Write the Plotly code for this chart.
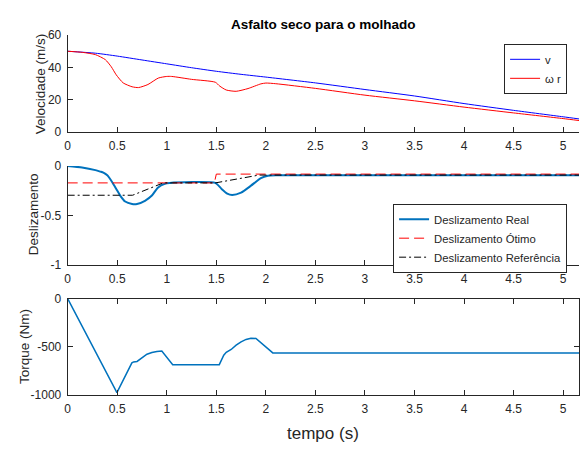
import plotly.graph_objects as go

# ---------------- data ----------------
t_v = [0, 0.28, 0.5, 0.75, 1.0, 1.25, 1.5, 1.75, 2.0, 2.5, 3.0, 3.5, 4.0, 4.5, 5.0, 5.16]
v = [50, 48.8, 47.0, 44.6, 42.2, 39.8, 37.6, 35.7, 34.0, 30.4, 26.3, 22.3, 17.6, 13.4, 9.4, 8.1]

t_wr = [0, 0.15, 0.28, 0.38, 0.44, 0.49, 0.56, 0.65, 0.715, 0.81, 0.915, 1.0, 1.05, 1.25,
        1.49, 1.535, 1.6, 1.70, 1.82, 1.95, 2.0, 2.1, 2.5, 3.0, 3.5, 4.0, 4.5, 5.0, 5.16]
wr = [50, 49.3, 47.9, 44.8, 40.4, 35.4, 30.4, 28.0, 27.5, 29.4, 33.4, 34.4, 34.4, 32.6,
      30.8, 28.4, 26.0, 25.2, 26.9, 29.8, 30.3, 29.9, 27.0, 22.8, 19.3, 15.4, 11.8, 8.3, 7.1]

t_sr = [0, 0.145, 0.28, 0.33, 0.36, 0.40, 0.42, 0.45, 0.50, 0.53, 0.58, 0.65, 0.70, 0.78, 0.85,
        0.91, 0.98, 1.03, 1.49, 1.55, 1.61, 1.66, 1.75, 1.85, 1.95, 2.02, 2.1, 5.16]
s_real = [0, -0.016, -0.043, -0.058, -0.068, -0.095, -0.12, -0.165, -0.25, -0.30, -0.36, -0.385,
          -0.385, -0.353, -0.30, -0.22, -0.18, -0.172, -0.172, -0.23, -0.28, -0.294, -0.27, -0.20,
          -0.124, -0.10, -0.095, -0.095]

t_so = [0, 1.48, 1.5, 5.16]
s_otimo = [-0.172, -0.172, -0.083, -0.083]

t_sref = [0, 0.655, 0.965, 1.49, 1.93, 5.16]
s_ref = [-0.297, -0.297, -0.172, -0.172, -0.093, -0.093]

t_T = [0, 0.497, 0.648, 0.665, 0.70, 0.75, 0.80, 0.85, 0.90, 0.95, 1.06, 1.53, 1.575, 1.60,
       1.65, 1.70, 1.75, 1.80, 1.85, 1.90, 2.07, 5.16]
torque = [0, -980, -670, -660, -655, -615, -580, -562, -550, -547, -688, -688, -590, -560,
          -530, -485, -450, -425, -413, -415, -566, -566]

x_ticks = [0, 0.5, 1, 1.5, 2, 2.5, 3, 3.5, 4, 4.5, 5]
x_ticktext = ["0", "0.5", "1", "1.5", "2", "2.5", "3", "3.5", "4", "4.5", "5"]
y1_ticks = [0, 20, 40, 60]
y1_ticktext = ["0", "20", "40", "60"]
y2_ticks = [-1, -0.5, 0]
y2_ticktext = ["-1", "-0.5", "0"]
y3_ticks = [-1000, -500, 0]
y3_ticktext = ["-1000", "-500", "0"]

# ---------------- figure ----------------
W, H = 583, 450
FONT = "Liberation Sans, Arial, Helvetica, sans-serif"
AX = "#262626"
BLUE_M = "#0072BD"

fig = go.Figure()
fig.add_trace(go.Scatter(x=t_v, y=v, mode="lines", name="v", line=dict(color="rgb(0,0,255)", width=1, shape="spline", smoothing=0.6),
                         xaxis="x", yaxis="y", legend="legend"))
fig.add_trace(go.Scatter(x=t_wr, y=wr, mode="lines", name="ω r", line=dict(color="rgb(255,0,0)", width=1, shape="spline", smoothing=0.6),
                         xaxis="x", yaxis="y", legend="legend"))

fig.add_trace(go.Scatter(x=t_sr, y=s_real, mode="lines", name="Deslizamento Real",
                         line=dict(color=BLUE_M, width=2, shape="spline", smoothing=0.6),
                         xaxis="x2", yaxis="y2", legend="legend2"))
fig.add_trace(go.Scatter(x=t_so, y=s_otimo, mode="lines", name="Deslizamento Ótimo",
                         line=dict(color="rgb(255,0,0)", width=1, dash="10px,5px"),
                         xaxis="x2", yaxis="y2", legend="legend2"))
fig.add_trace(go.Scatter(x=t_sref, y=s_ref, mode="lines", name="Deslizamento Referência",
                         line=dict(color="black", width=1, dash="7px,3px,2px,3px"),
                         xaxis="x2", yaxis="y2", legend="legend2"))

fig.add_trace(go.Scatter(x=t_T, y=torque, mode="lines", name="Torque", showlegend=False,
                         line=dict(color=BLUE_M, width=1.5),
                         xaxis="x3", yaxis="y3"))

def px_dom_y(top, bottom):
    return [1 - bottom / H, 1 - top / H]

xdom = [65 / W, 579 / W]
common_x = dict(range=[0, 5.16], domain=xdom, showline=True, linecolor=AX, linewidth=1,
                ticks="inside", ticklen=5, tickcolor=AX, tickwidth=1, showgrid=False, zeroline=False,
                tickvals=x_ticks, ticktext=x_ticktext, tickfont=dict(family=FONT, size=12, color=AX),
                ticklabelstandoff=3)
common_y = dict(showline=True, linecolor=AX, linewidth=1, ticks="inside", ticklen=5, tickcolor=AX,
                tickwidth=1, showgrid=False, zeroline=False, tickfont=dict(family=FONT, size=12, color=AX),
                ticklabelstandoff=3)

fig.update_layout(
    width=W, height=H, margin=dict(l=0, r=0, t=0, b=0),
    paper_bgcolor="white", plot_bgcolor="white",
    font=dict(family=FONT, color=AX),
    xaxis=dict(common_x, anchor="y"),
    yaxis=dict(common_y, domain=px_dom_y(29, 129), range=[0, 60], tickvals=y1_ticks, ticktext=y1_ticktext, anchor="x"),
    xaxis2=dict(common_x, anchor="y2"),
    yaxis2=dict(common_y, domain=px_dom_y(164, 266), range=[-1, 0], tickvals=y2_ticks, ticktext=y2_ticktext, anchor="x2"),
    xaxis3=dict(common_x, anchor="y3", mirror="ticks"),
    yaxis3=dict(common_y, domain=px_dom_y(301, 400), range=[-1000, 0], tickvals=y3_ticks, ticktext=y3_ticktext,
                anchor="x3", mirror="ticks"),
    legend=dict(x=567 / W, y=1 - 38 / H, xanchor="right", yanchor="top", bgcolor="white",
                bordercolor=AX, borderwidth=1, font=dict(family=FONT, size=11.3, color=AX)),
    legend2=dict(x=567 / W, y=1 - 203 / H, xanchor="right", yanchor="top", bgcolor="white",
                 bordercolor=AX, borderwidth=1, font=dict(family=FONT, size=11.3, color=AX)),
    annotations=[
        dict(text="<b>Asfalto seco para o molhado</b>", x=322 / W, y=1 - 18.5 / H, xref="paper", yref="paper",
             xanchor="center", yanchor="middle", showarrow=False, font=dict(family=FONT, size=13.5, color="black")),
        dict(text="Velocidade (m/s)", x=38 / W, y=1 - 79 / H, xref="paper", yref="paper", textangle=-90,
             xanchor="center", yanchor="middle", showarrow=False, font=dict(family=FONT, size=13.5, color=AX)),
        dict(text="Deslizamento", x=31 / W, y=1 - 214 / H, xref="paper", yref="paper", textangle=-90,
             xanchor="center", yanchor="middle", showarrow=False, font=dict(family=FONT, size=13.5, color=AX)),
        dict(text="Torque (Nm)", x=21 / W, y=1 - 350 / H, xref="paper", yref="paper", textangle=-90,
             xanchor="center", yanchor="middle", showarrow=False, font=dict(family=FONT, size=13.5, color=AX)),
        dict(text="tempo (s)", x=322 / W, y=1 - 440 / H, xref="paper", yref="paper",
             xanchor="center", yanchor="middle", showarrow=False, font=dict(family=FONT, size=17, color=AX)),
    ],
)

fig.write_html("out.html")
